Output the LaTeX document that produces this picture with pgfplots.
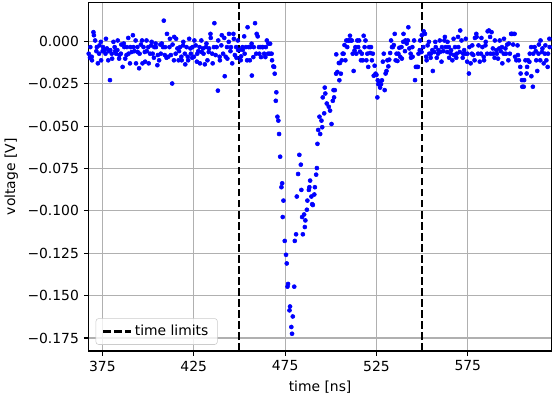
\documentclass[border=0pt]{standalone}
\usepackage{fontspec}
\setmainfont{DejaVu Sans}
\usepackage{pgfplots}
\pgfplotsset{compat=1.18}
\definecolor{gridgray}{HTML}{B0B0B0}
\definecolor{legedge}{HTML}{CCCCCC}
\begin{document}
\fontsize{10}{12}\selectfont
\begin{tikzpicture}
\begin{axis}[
  name=ax, at={(0,0)}, anchor=south west,
  scale only axis, width=333.2pt, height=250.8pt,
  xmin=367.5, xmax=620.8, ymin=-0.1827, ymax=0.0229,
  xtick={375,425,475,525,575}, xticklabels={375,425,475,525,575},
  ytick={-0.175,-0.15,-0.125,-0.1,-0.075,-0.05,-0.025,0},
  yticklabels={−0.175,−0.150,−0.125,−0.100,−0.075,−0.050,−0.025,0.000},
  tick align=outside, major tick length=3.5pt,
  tick style={black, line width=0.8pt},
  xtick pos=bottom, ytick pos=left,
  grid=major, major grid style={gridgray, line width=0.8pt},
  axis line style={black, line width=0.8pt},
  xlabel={time [ns]}, ylabel={voltage [V]},
  ticklabel style={font=\fontsize{10}{12}\selectfont},
  label style={font=\fontsize{10}{12}\selectfont},
  legend style={at={(0,0)}, anchor=south west, xshift=5pt, yshift=4.5pt,
    draw=legedge, fill=white, fill opacity=0.8, draw opacity=1, text opacity=1,
    rounded corners=2pt, inner xsep=4.5pt, inner ysep=2.8pt,
    font=\fontsize{10}{12}\selectfont},
  legend cell align=left,
  legend image code/.code={\draw[#1] (0pt,0pt) -- (20pt,0pt);},
]
\addplot[only marks, mark=*, mark size=1.45pt, color=blue, mark options={draw=blue, fill=blue}, forget plot] coordinates {
(367.5,-0.0072) (368.2,-0.0096) (368.4,-0.0033) (369.15,-0.0090) (369.3,-0.0111) (370.1,0.0055) (370.35,0.0037) (371.05,0.0006) (371.7,-0.0057) (371.95,-0.0033)
(372.5,-0.0129) (373.2,-0.0072) (373.4,-0.0023) (374.15,-0.0002) (374.3,-0.0111) (375.1,-0.0057) (375.35,-0.0033) (376.05,-0.0051) (376.7,-0.0072) (376.95,0.0016)
(377.5,-0.0041) (378.2,-0.0111) (378.4,-0.0057) (379.15,-0.0228) (379.3,-0.0051) (380.1,-0.0072) (380.35,-0.0101) (381.05,-0.0002) (381.7,-0.0033) (381.95,-0.0057)
(382.5,-0.0072) (383.2,-0.0051) (383.4,0.0006) (384.15,-0.0101) (384.3,-0.0080) (385.1,-0.0072) (385.35,-0.0018) (386.05,-0.0150) (386.7,-0.0012) (386.95,-0.0033)
(387.5,-0.0101) (388.2,-0.0080) (388.4,-0.0033) (389.15,0.0021) (389.3,-0.0072) (390.1,-0.0129) (390.35,-0.0033) (391.05,-0.0062) (391.7,0.0037) (391.95,-0.0033)
(392.5,-0.0057) (393.2,0.0006) (393.4,-0.0129) (394.15,-0.0033) (394.3,-0.0062) (395.1,-0.0158) (395.35,-0.0072) (396.05,-0.0018) (396.7,0.0006) (396.95,-0.0129)
(397.5,-0.0033) (398.2,-0.0062) (398.4,-0.0119) (399.15,0.0006) (399.3,-0.0057) (400.1,-0.0033) (400.35,-0.0129) (401.05,-0.0072) (401.7,-0.0023) (401.95,-0.0002)
(402.5,-0.0072) (403.2,-0.0096) (403.4,-0.0033) (404.15,-0.0012) (404.3,-0.0033) (405.1,-0.0140) (405.35,-0.0080) (406.05,-0.0111) (406.7,-0.0018) (406.95,-0.0072)
(407.5,-0.0012) (408.2,-0.0033) (408.6,0.0123) (409.15,-0.0080) (409.3,-0.0033) (410.1,-0.0096) (410.35,0.0045) (411.05,-0.0090) (411.7,-0.0033) (411.95,0.0016)
(412.5,-0.0080) (413.2,-0.0248) (413.4,-0.0018) (414.15,-0.0111) (414.3,0.0027) (415.1,-0.0072) (415.35,0.0016) (416.05,-0.0041) (416.7,-0.0111) (416.95,-0.0057)
(417.5,-0.0033) (418.2,-0.0090) (418.4,-0.0111) (419.15,-0.0023) (419.3,-0.0002) (420.1,-0.0072) (420.35,-0.0135) (421.05,-0.0033) (421.7,-0.0090) (421.95,-0.0111)
(422.5,0.0016) (423.2,-0.0041) (423.4,-0.0072) (424.15,-0.0096) (424.3,-0.0033) (425.1,-0.0090) (425.35,0.0006) (426.05,-0.0023) (426.7,-0.0119) (426.95,-0.0072)
(427.5,-0.0057) (428.2,-0.0033) (428.4,-0.0129) (429.15,0.0006) (429.3,-0.0062) (430.1,-0.0041) (430.35,-0.0072) (431.05,-0.0135) (431.7,-0.0033) (431.95,-0.0012)
(432.5,-0.0111) (433.2,-0.0062) (433.4,-0.0041) (434.15,0.0045) (434.3,0.0021) (435.1,-0.0072) (435.35,-0.0129) (436.05,-0.0033) (436.3,0.0108) (436.95,-0.0080)
(437.5,-0.0033) (438.2,-0.0290) (438.4,0.0006) (439.15,-0.0090) (439.3,-0.0111) (440.1,-0.0023) (440.35,0.0037) (441.05,-0.0072) (441.7,0.0021) (441.95,-0.0205)
(442.5,-0.0090) (443.2,-0.0033) (443.4,-0.0101) (444.15,-0.0002) (444.3,0.0045) (445.1,-0.0057) (445.35,-0.0033) (446.05,-0.0129) (446.7,0.0045) (446.95,0.0016)
(447.5,-0.0080) (448.2,-0.0033) (448.4,-0.0096) (449.15,0.0006) (449.3,-0.0051)
(450.0,-0.0049) (450.7,-0.0111) (450.9,-0.0088) (451.65,-0.0033) (451.8,-0.0049) (452.6,0.0030) (452.85,-0.0072) (453.55,-0.0033) (454.2,-0.0111) (454.45,0.0084)
(455.0,-0.0033) (455.7,-0.0111) (455.9,-0.0033) (456.65,-0.0013) (456.8,-0.0201) (457.6,-0.0092) (457.85,-0.0033) (458.55,0.0108) (459.2,-0.0072) (459.45,0.0045)
(460.0,0.0030) (460.7,-0.0033) (460.9,-0.0072) (461.65,-0.0033) (461.8,-0.0092) (462.6,-0.0033) (462.85,-0.0033) (463.55,-0.0072) (464.2,-0.0092) (464.45,-0.0033)
(465.0,0.0006) (465.7,-0.0072) (465.9,-0.0013) (466.65,-0.0072) (466.8,-0.0013) (467.6,-0.0072) (467.85,-0.0111) (468.55,-0.0147)
(469.0,-0.0150) (469.3,-0.0190) (469.9,-0.0350) (470.2,-0.0300) (470.8,-0.0444) (471.3,-0.0467) (471.7,-0.0546) (472.3,-0.0680) (473.0,-0.0860) (473.4,-0.0837)
(473.7,-0.1036) (474.1,-0.0939) (474.8,-0.1177) (475.5,-0.1259) (475.9,-0.1310) (476.3,-0.1447) (476.6,-0.1431) (477.4,-0.1587) (477.7,-0.1564) (478.4,-0.1685)
(478.8,-0.1725) (479.2,-0.1623) (480.0,-0.1447) (480.3,-0.1177) (481.0,-0.1138) (481.4,-0.0915) (482.1,-0.0782) (482.8,-0.0669) (483.6,-0.0727) (483.9,-0.0876)
(484.3,-0.1036) (484.7,-0.1138) (485.4,-0.1021) (485.8,-0.1095) (486.1,-0.1056) (486.9,-0.0993) (487.2,-0.0939) (488.0,-0.0876) (488.3,-0.0860) (488.7,-0.0821)
(489.4,-0.0915) (489.8,-0.0960) (490.2,-0.0965) (491.0,-0.0903) (491.3,-0.0860) (492.0,-0.0786) (492.4,-0.0747) (492.7,-0.0604) (493.1,-0.0522) (493.8,-0.0444)
(494.2,-0.0546) (494.9,-0.0467) (495.3,-0.0506) (495.6,-0.0330) (496.4,-0.0424) (496.7,-0.0272) (497.0,-0.0307) (497.8,-0.0366) (498.9,-0.0385) (499.6,-0.0408)
(500.4,-0.0487) (501.1,-0.0350) (501.5,-0.0287) (501.8,-0.0330) (502.2,-0.0287) (502.9,-0.0190) (503.0,-0.0076) (503.6,-0.0180) (504.4,-0.0127) (504.7,-0.0229)
(505.0,-0.0127) (505.5,-0.0190)
(506.0,-0.0111) (506.5,-0.0072) (507.0,-0.0072) (507.5,-0.0021) (508.0,-0.0111) (508.5,0.0006) (509.0,-0.0033) (509.5,0.0006) (510.0,0.0006) (510.5,0.0034)
(511.0,0.0006) (511.5,0.0006) (512.0,-0.0072) (512.5,-0.0174) (513.0,-0.0053) (513.5,-0.0033) (514.0,-0.0072) (514.5,0.0006) (515.0,-0.0033) (515.5,0.0006)
(516.0,-0.0060) (516.5,-0.0111) (517.0,-0.0072) (517.5,-0.0111) (518.0,0.0034) (518.5,-0.0033) (519.0,0.0006) (519.5,-0.0111) (520.0,-0.0072) (520.5,-0.0150)
(521.0,-0.0033) (521.5,-0.0068) (522.0,-0.0033) (522.5,-0.0111) (523.0,-0.0072) (523.5,-0.0202) (524.0,-0.0143) (524.5,-0.0190) (525.0,-0.0197) (525.5,-0.0330)
(525.7,-0.0229) (526.0,-0.0252) (526.5,-0.0245) (527.0,-0.0272) (527.5,-0.0252) (528.0,-0.0229) (528.5,-0.0119) (529.0,-0.0072) (529.5,-0.0287) (530.0,-0.0189)
(530.5,-0.0174) (531.0,-0.0111) (531.5,-0.0147) (532.0,-0.0107) (532.5,-0.0068) (533.0,0.0006) (533.5,-0.0033) (534.0,-0.0033) (534.5,-0.0021) (535.0,0.0045)
(535.5,-0.0111) (536.0,-0.0072) (536.5,-0.0115) (537.0,-0.0072) (537.5,-0.0037)
(538.0,-0.0090) (538.7,-0.0033) (538.9,-0.0101) (539.65,-0.0002) (539.8,0.0045) (540.6,-0.0057) (540.85,0.0006) (541.55,-0.0012) (542.2,0.0006) (542.45,0.0084)
(543.0,-0.0041) (543.7,-0.0072) (543.9,-0.0096) (544.65,-0.0033) (544.8,-0.0090) (545.6,0.0006) (546.1,-0.0228) (546.55,-0.0150) (547.2,-0.0150) (547.7,-0.0150)
(548.0,-0.0072) (548.7,-0.0051) (548.9,0.0006) (549.65,-0.0062) (549.8,0.0037) (550.6,-0.0033) (550.85,0.0060) (551.55,0.0045) (552.2,-0.0090) (552.45,-0.0111)
(553.0,-0.0023) (553.7,-0.0002) (553.9,-0.0072) (554.65,-0.0096) (554.8,-0.0072) (555.6,-0.0051) (555.85,-0.0174) (556.55,-0.0062) (557.2,-0.0002) (557.45,-0.0033)
(558.0,-0.0096) (558.7,-0.0072) (558.9,-0.0051) (559.65,0.0006) (559.8,-0.0062) (560.6,-0.0119) (560.85,-0.0033) (561.55,-0.0057) (562.2,0.0006) (562.45,0.0027)
(563.0,-0.0033) (563.7,-0.0062) (563.9,-0.0002) (564.65,-0.0033) (564.8,-0.0096) (565.6,-0.0072) (565.85,-0.0051) (566.55,-0.0111) (567.2,0.0016) (567.45,-0.0080)
(568.0,-0.0033) (568.7,-0.0096) (568.9,-0.0072) (569.65,0.0027) (569.8,-0.0033) (570.6,-0.0062) (570.85,0.0065) (571.55,0.0006) (572.2,-0.0096) (572.45,-0.0072)
(573.0,-0.0051) (573.7,-0.0072) (573.9,0.0016) (574.65,-0.0119) (574.8,-0.0072) (575.6,-0.0189) (575.85,-0.0033) (576.55,-0.0129) (577.2,-0.0072) (577.45,-0.0023)
(578.0,-0.0080) (578.7,-0.0111) (578.9,0.0021) (579.65,0.0045) (579.8,0.0027) (580.6,-0.0072) (580.85,-0.0023) (581.55,-0.0119) (582.2,-0.0072) (582.45,0.0021)
(583.0,-0.0033) (583.7,-0.0090) (583.9,-0.0111) (584.65,-0.0023) (584.8,-0.0002) (585.6,-0.0072) (585.85,0.0060) (586.55,0.0065) (587.2,0.0027) (587.45,-0.0072)
(588.0,0.0055) (588.7,-0.0041) (588.9,-0.0072) (589.65,-0.0096) (589.8,0.0006) (590.6,-0.0051) (590.85,-0.0072) (591.55,-0.0101) (592.2,-0.0041) (592.45,0.0006)
(593.0,-0.0057) (593.7,-0.0033) (593.9,-0.0129) (594.65,-0.0072) (594.8,0.0016) (595.6,-0.0041) (595.85,-0.0072) (596.55,-0.0018) (597.2,-0.0111) (597.45,-0.0012)
(598.0,-0.0072) (598.7,0.0045) (598.9,0.0045) (599.65,0.0045) (599.8,-0.0018) (600.6,0.0045) (600.85,-0.0090) (601.55,-0.0111) (602.2,-0.0023) (602.45,-0.0080)
(603.0,-0.0111) (603.7,-0.0150) (603.9,-0.0189) (604.65,-0.0228) (604.8,-0.0267) (605.6,-0.0267) (605.85,-0.0228) (606.55,-0.0111) (607.2,-0.0189) (607.45,-0.0150)
(608.0,-0.0111) (608.7,-0.0120) (608.9,-0.0072) (609.65,-0.0033) (609.8,-0.0205) (610.6,-0.0267) (610.85,-0.0072) (611.55,-0.0033) (612.2,-0.0057) (612.45,-0.0111)
(613.0,-0.0174) (613.7,-0.0072) (613.9,-0.0018) (614.65,-0.0111) (614.8,0.0006) (615.6,-0.0062) (615.85,-0.0041) (616.55,-0.0129) (617.2,-0.0072) (617.45,-0.0023)
(618.0,-0.0111) (618.7,-0.0150) (618.9,-0.0072) (619.65,0.0016) (619.8,-0.0033)
};
\addplot[black, line width=1.5pt, dash pattern=on 5.55pt off 2.4pt] coordinates {(449.9,-0.1827) (449.9,0.0229)};
\addlegendentry{time limits}
\addplot[black, line width=1.5pt, dash pattern=on 5.55pt off 2.4pt, forget plot] coordinates {(549.7,-0.1827) (549.7,0.0229)};
\end{axis}
\pgfresetboundingbox
\path[use as bounding box] (-63.86pt,-33.84pt) rectangle (333.56pt,252.74pt);
\end{tikzpicture}
\end{document}
